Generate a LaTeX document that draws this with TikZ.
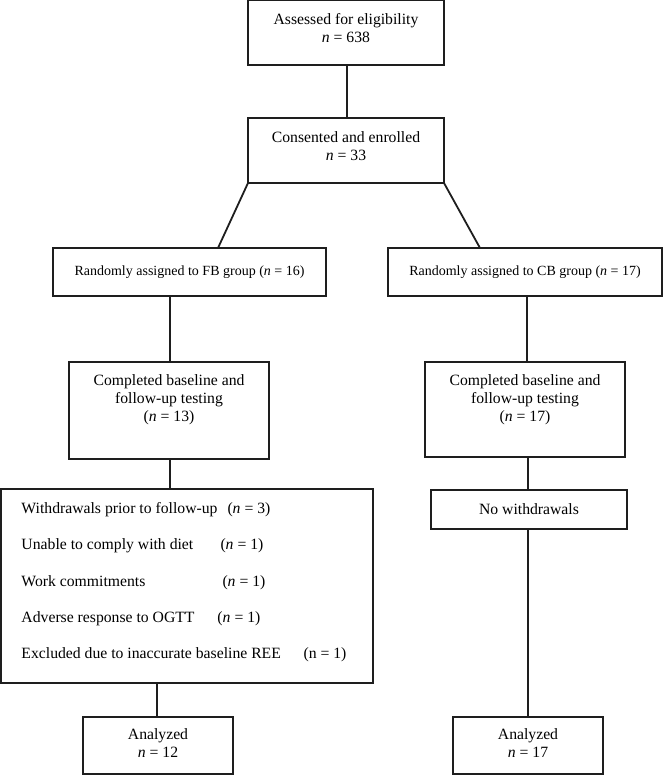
\documentclass[tikz,border=0pt]{standalone}
\usepackage{fontspec}
\setmainfont{Liberation Serif}
\newcommand\nn{\textit{n}}
\newcommand\bxt[4]{\parbox[c][#2pt][t]{#1pt}{\centering\vspace*{#3pt}#4}}
\definecolor{ink}{HTML}{1E1E1E}
\begin{document}
\begin{tikzpicture}[x=1pt,y=-1pt,
  box/.style={draw=ink, line width=1.1pt, inner sep=0pt, outer sep=0pt, fill=white,
    font=\fontsize{15.7}{18}\selectfont},
  conn/.style={draw=ink, line width=1.8pt}]
\useasboundingbox (0,0) rectangle (663,775);

\node[box] (b1) at (346,32.5) {\bxt{196}{65}{13.6}{Assessed for eligibility\\\nn{} = 638}};
\node[box] (b2) at (346,150.5) {\bxt{196}{65}{13.2}{Consented and enrolled\\\nn{} = 33}};
\node[box] (fb) at (189.5,272) {\bxt{273}{48}{0}{\vfill\fontsize{14}{16}\selectfont Randomly assigned to FB group (\nn{} = 16)\vfill}};
\node[box] (cb) at (525,272) {\bxt{274}{48}{0}{\vfill\fontsize{14}{16}\selectfont Randomly assigned to CB group (\nn{} = 17)\vfill}};
\node[box] (fbc) at (169,410.5) {\bxt{200}{97}{12.5}{Completed baseline and\\follow-up testing\\(\nn{} = 13)}};
\node[box] (cbc) at (525,409.5) {\bxt{200}{95}{12.5}{Completed baseline and\\follow-up testing\\(\nn{} = 17)}};
\node[box] (wd) at (187,586) {\parbox[c][194pt][t]{372pt}{\raggedright\fontsize{15.7}{36.25}\selectfont\vspace*{13.5pt}%
\hspace*{20.5pt}\makebox[206pt][l]{Withdrawals prior to follow-up}(\nn{} = 3)\\
\hspace*{20.5pt}\makebox[199pt][l]{Unable to comply with diet}(\nn{} = 1)\\
\hspace*{20.5pt}\makebox[201pt][l]{Work commitments}(\nn{} = 1)\\
\hspace*{20.5pt}\makebox[196pt][l]{Adverse response to OGTT}(\nn{} = 1)\\
\hspace*{20.5pt}\makebox[282pt][l]{Excluded due to inaccurate baseline REE}(n = 1)}};
\node[box] (nw) at (529,509.5) {\bxt{196}{39}{0}{\vfill No withdrawals\vfill}};
\node[box] (afb) at (158,745.5) {\bxt{150}{57}{12}{Analyzed\\\nn{} = 12}};
\node[box] (acb) at (528,745.5) {\bxt{150}{57}{12}{Analyzed\\\nn{} = 17}};

\draw[conn] ([xshift=1pt]b1.south) -- ([xshift=1pt]b2.north);
\draw[conn] (b2.south west) -- ([xshift=28.5pt]fb.north);
\draw[conn] (b2.south east) -- ([xshift=-45pt]cb.north);
\draw[conn] ([xshift=1pt]fbc.north) -- ([xshift=1pt]fbc.north |- fb.south);
\draw[conn] ([xshift=2pt]cb.south) -- ([xshift=2pt]cbc.north);
\draw[conn] ([xshift=1pt]fbc.south) -- ([xshift=1pt]fbc.south |- wd.north);
\draw[conn] ([xshift=-1pt]afb.north) -- ([xshift=-1pt]afb.north |- wd.south);
\draw[conn] ([xshift=-1pt]nw.north) -- ([xshift=-1pt]nw.north |- cbc.south);
\draw[conn] (acb) -- (acb |- nw.south);
\end{tikzpicture}
\end{document}
